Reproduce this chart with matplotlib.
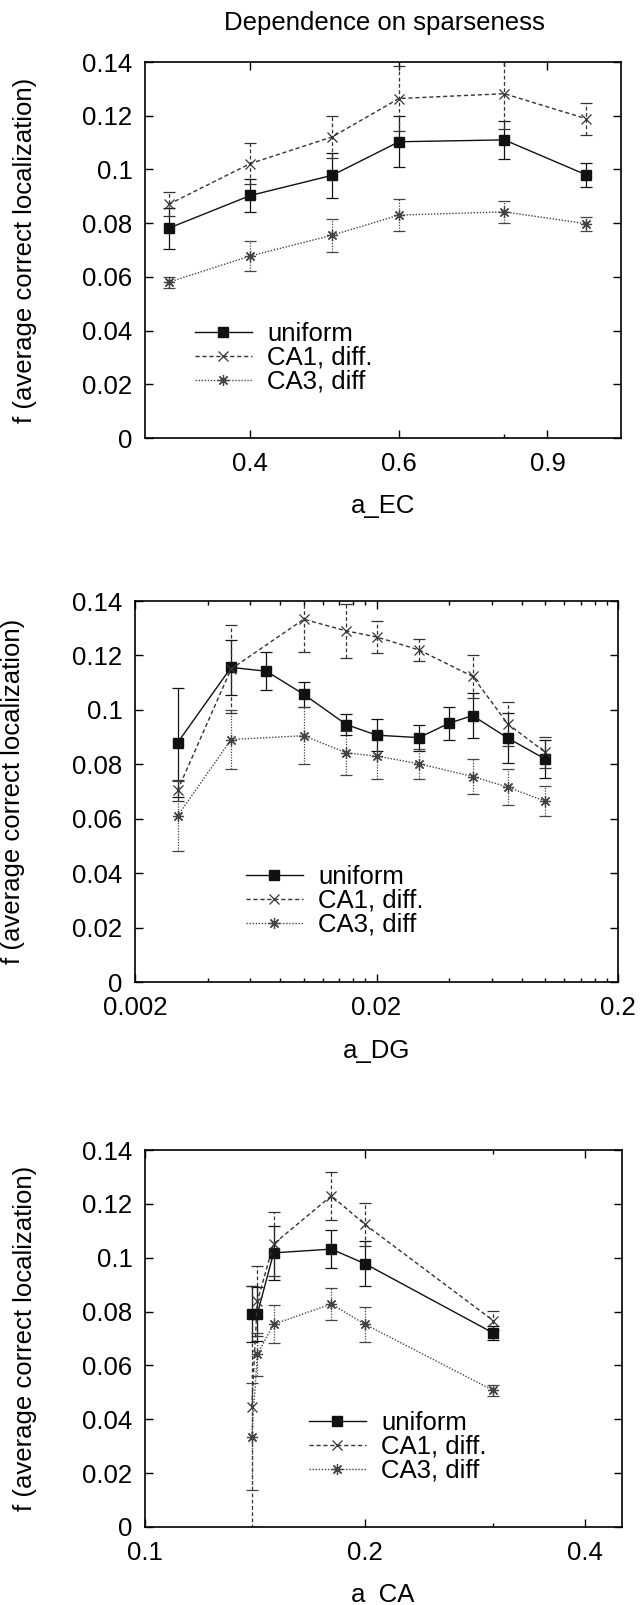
import numpy as np
import matplotlib
matplotlib.use("Agg")
import matplotlib.pyplot as plt
from matplotlib.ticker import FuncFormatter, NullFormatter

plt.rcParams['font.family'] = ['Liberation Sans', 'DejaVu Sans']
plt.rcParams['font.size'] = 18.5

# panel 1: a_EC
ec_x = [0.32, 0.4, 0.5, 0.6, 0.8, 1.0]
ec_uni = [0.0781, 0.0903, 0.0978, 0.1103, 0.1110, 0.0980]
ec_uni_err = [0.0076, 0.0063, 0.0083, 0.0095, 0.0070, 0.0045]
ec_ca1 = [0.0870, 0.1022, 0.1121, 0.1264, 0.1282, 0.1189]
ec_ca1_err = [0.0045, 0.0077, 0.0077, 0.0120, 0.0130, 0.0060]
ec_ca3 = [0.0580, 0.0678, 0.0755, 0.0830, 0.0842, 0.0798]
ec_ca3_err = [0.0020, 0.0057, 0.0062, 0.0060, 0.0042, 0.0026]

# panel 2: a_DG
dg_x_uni = [0.003, 0.005, 0.007, 0.01, 0.015, 0.02, 0.03, 0.04, 0.05, 0.07, 0.1]
dg_uni = [0.0879, 0.1156, 0.1142, 0.1057, 0.0946, 0.0907, 0.0898, 0.0951, 0.0979, 0.0896, 0.0819]
dg_uni_err = [0.020, 0.010, 0.007, 0.0045, 0.004, 0.006, 0.0048, 0.006, 0.0083, 0.0093, 0.007]
dg_x = [0.003, 0.005, 0.01, 0.015, 0.02, 0.03, 0.05, 0.07, 0.1]
dg_ca1 = [0.0704, 0.1150, 0.1333, 0.1290, 0.1268, 0.1220, 0.1123, 0.0948, 0.0844]
dg_ca1_err = [0.004, 0.016, 0.012, 0.010, 0.006, 0.004, 0.008, 0.008, 0.0058]
dg_ca3 = [0.0610, 0.0891, 0.0905, 0.0842, 0.0830, 0.0802, 0.0755, 0.0716, 0.0664]
dg_ca3_err = [0.013, 0.011, 0.0105, 0.008, 0.0085, 0.0055, 0.0065, 0.0065, 0.0055]

# panel 3: a_CA
ca_x = [0.14, 0.1425, 0.15, 0.18, 0.2, 0.3]
ca_uni = [0.0791, 0.0791, 0.1018, 0.1032, 0.0978, 0.0720]
ca_uni_err = [0.0105, 0.010, 0.010, 0.007, 0.0084, 0.0025]
ca_ca1 = [0.0446, 0.0838, 0.1051, 0.1230, 0.1124, 0.0766]
ca_ca1_err = [0.045, 0.013, 0.012, 0.009, 0.008, 0.0035]
ca_ca3 = [0.0336, 0.0641, 0.0753, 0.0828, 0.0753, 0.0507]
ca_ca3_err = [0.020, 0.008, 0.007, 0.006, 0.0065, 0.002]

labels = ['uniform', 'CA1, diff.', 'CA3, diff']
y_ticks = [0, 0.02, 0.04, 0.06, 0.08, 0.1, 0.12, 0.14]

W, H = 642, 1605
fig = plt.figure(figsize=(W / 100, H / 100), dpi=100)

def box(l, r, t, b):
    return [l / W, 1 - b / H, (r - l) / W, (b - t) / H]

fmt = FuncFormatter(lambda v, p: '%g' % v)

styles = [
    dict(color='#111111', ls='-', marker='s', ms=6.5, mfc='#111111'),
    dict(color='#333333', ls=(0, (3, 2)), marker='x', ms=7, mew=0.9),
    dict(color='#444444', ls=(0, (1, 1.2)), marker=(8, 2, 0), ms=8, mew=0.9),
]

def draw(ax, xs, ys, errs):
    handles = []
    for x, y, e, st in zip(xs, ys, errs, styles):
        eb = ax.errorbar(x, y, yerr=e, lw=1.0, elinewidth=0.9, capsize=4.5,
                         capthick=0.9, **st)
        eb[2][0].set_linestyle(st['ls'])
        handles.append(eb[0])
    return handles

def style_axes(ax, xlim, major, minor, xlabel, leg_x, h):
    ax.set_xscale('log')
    ax.set_xlim(*xlim)
    ax.set_ylim(0, 0.14)
    ax.set_xticks(major)
    ax.set_xticks(minor, minor=True)
    ax.xaxis.set_major_formatter(fmt)
    ax.xaxis.set_minor_formatter(NullFormatter())
    ax.set_yticks(y_ticks)
    ax.yaxis.set_major_formatter(fmt)
    ax.tick_params(which='both', direction='in', top=True, right=True, width=1.0)
    ax.tick_params(which='major', length=6)
    ax.tick_params(which='minor', length=3)
    ax.tick_params(axis='x', pad=10)
    ax.tick_params(axis='y', pad=9)
    for s in ax.spines.values():
        s.set_linewidth(1.2)
    ax.set_xlabel(xlabel)
    ax.xaxis.set_label_coords(0.5, -0.18)
    ax.xaxis.label.set_va('center')
    ax.set_ylabel('f (average correct localization)')
    ax.yaxis.set_label_coords(-0.227, 0.5)
    ax.legend(h, labels, loc='center left', bbox_to_anchor=(leg_x, 0.213),
              frameon=False, handlelength=2.2, handletextpad=0.6,
              labelspacing=0.0, borderpad=0, borderaxespad=0, fontsize=18.5)

fig.text(384 / W, 1 - 23 / H, 'Dependence on sparseness', ha='center', va='center')

ax1 = fig.add_axes(box(145, 621, 62, 438))
h = draw(ax1, [ec_x] * 3, [ec_uni, ec_ca1, ec_ca3], [ec_uni_err, ec_ca1_err, ec_ca3_err])
style_axes(ax1, (0.3, 1.1), [0.4, 0.6, 0.9], [0.8], 'a_EC', 0.105, h)

ax2 = fig.add_axes(box(135, 618, 601, 982))
h = draw(ax2, [dg_x_uni, dg_x, dg_x], [dg_uni, dg_ca1, dg_ca3], [dg_uni_err, dg_ca1_err, dg_ca3_err])
dg_minor = [0.004, 0.006, 0.008, 0.01, 0.012, 0.014, 0.016, 0.018,
            0.04, 0.06, 0.08, 0.1, 0.12, 0.14, 0.16, 0.18]
style_axes(ax2, (0.002, 0.2), [0.002, 0.02, 0.2], dg_minor, 'a_DG', 0.23, h)

ax3 = fig.add_axes(box(145, 622, 1150, 1527))
h = draw(ax3, [ca_x] * 3, [ca_uni, ca_ca1, ca_ca3], [ca_uni_err, ca_ca1_err, ca_ca3_err])
style_axes(ax3, (0.1, 0.45), [0.1, 0.2, 0.4], [0.3], 'a_CA', 0.344, h)

fig.savefig('out.png', dpi=100)
